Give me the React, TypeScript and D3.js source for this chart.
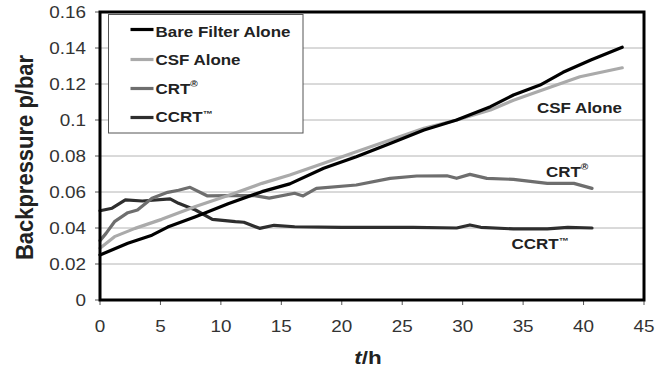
import React from "react";
import * as d3 from "d3";

const xTicks = [0, 5, 10, 15, 20, 25, 30, 35, 40, 45];
const yTicks = [0, 0.02, 0.04, 0.06, 0.08, 0.1, 0.12, 0.14, 0.16];
const yTickLabels = ["0", "0.02", "0.04", "0.06", "0.08", "0.1", "0.12", "0.14", "0.16"];

const bareT = [0, 2.3, 4.3, 5.6, 7.9, 10.6, 13.4, 15.7, 18.5, 21.2, 24, 26.8, 29.5, 32.3, 34.2, 36.4, 38.3, 40.6, 43.2];
const bareV = [0.025, 0.0315, 0.036, 0.0405, 0.0463, 0.0535, 0.0602, 0.0645, 0.0732, 0.0796, 0.087, 0.0944, 0.1, 0.1074, 0.1139, 0.1194, 0.1265, 0.1333, 0.1404];

const csfT = [0, 1.2, 2.9, 5.1, 7.9, 10.6, 13.4, 15.7, 18.5, 21.2, 24, 26.8, 29.5, 32.3, 34.2, 37, 39.7, 43.2];
const csfV = [0.0287, 0.0352, 0.0398, 0.0448, 0.0519, 0.058, 0.0648, 0.0694, 0.076, 0.0824, 0.0889, 0.0954, 0.1, 0.1056, 0.111, 0.1176, 0.124, 0.129];

const crtT = [0, 0.5, 1.2, 2.3, 3.1, 4.3, 5.6, 6.5, 7.45, 8.9, 10.6, 12.8, 14, 16.1, 16.8, 17.9, 21.2, 24, 26.2, 28.7, 29.5, 30.6, 32, 34.2, 37, 39.2, 40.7];
const crtV = [0.033, 0.037, 0.0435, 0.0485, 0.05, 0.0565, 0.0598, 0.061, 0.0626, 0.0578, 0.058, 0.058, 0.0566, 0.0593, 0.0578, 0.062, 0.0639, 0.0676, 0.0689, 0.069, 0.0676, 0.0698, 0.0676, 0.067, 0.0648, 0.0648, 0.062];

const ccrtT = [0, 1, 2.1, 3.5, 5.8, 6.5, 7.9, 9.3, 11.2, 11.9, 13.2, 14.4, 16.1, 20, 25.9, 29.5, 30.6, 31.5, 34.2, 37, 38.7, 40.7];
const ccrtV = [0.0496, 0.051, 0.0556, 0.055, 0.0562, 0.0537, 0.05, 0.0448, 0.0435, 0.0432, 0.0398, 0.0415, 0.0407, 0.0404, 0.0404, 0.04, 0.0417, 0.0404, 0.0395, 0.0395, 0.0404, 0.04];

const seriesNames = ["Bare Filter Alone", "CSF Alone", "CRT", "CCRT"];
const seriesColors = ["#000000", "#aaaaaa", "#6e6e6e", "#2e2e2e"];

const W = 671, H = 372;
const L = 100, R = 644, T = 12, B = 300;
const FONT = "'Liberation Sans', Arial, sans-serif";
const SX = 1.18;

export default function App() {
  const x = d3.scaleLinear().domain([0, 45]).range([L, R]);
  const y = d3.scaleLinear().domain([0, 0.16]).range([B, T]);
  const line = d3.line<[number, number]>().x(d => x(d[0])).y(d => y(d[1]));
  const data = [
    d3.zip(bareT, bareV) as [number, number][],
    d3.zip(csfT, csfV) as [number, number][],
    d3.zip(crtT, crtV) as [number, number][],
    d3.zip(ccrtT, ccrtV) as [number, number][],
  ];
  const drawOrder = [3, 2, 1, 0];
  const legendLineY = [29.5, 59.5, 88.5, 117.5];
  const legendTextY = [36.5, 65, 93.5, 122];

  const sup = (i: number) =>
    i === 2 ? <tspan fontSize={9} dy={-7}>®</tspan> : i === 3 ? <tspan fontSize={9} dy={-5}>™</tspan> : null;

  return (
    <svg width={W} height={H} style={{ position: "absolute", left: 0, top: 0, background: "#fff" }} fontFamily={FONT}>
      <rect x={0} y={0} width={W} height={H} fill="#fff" />
      {yTicks.slice(1, -1).map(v => (
        <line key={"g" + v} x1={L} x2={R} y1={y(v)} y2={y(v)} stroke="#b4b4b4" strokeWidth={1} />
      ))}
      {yTicks.map(v => (
        <line key={"yt" + v} x1={L - 5} x2={L} y1={y(v)} y2={y(v)} stroke="#555" strokeWidth={1} />
      ))}
      {xTicks.map(v => (
        <line key={"xt" + v} x1={x(v)} x2={x(v)} y1={B} y2={B + 5} stroke="#555" strokeWidth={1} />
      ))}
      {drawOrder.map(i => (
        <path key={"s" + i} d={line(data[i]) || ""} fill="none" stroke={seriesColors[i]} strokeWidth={3.2} strokeLinejoin="round" strokeLinecap="round" />
      ))}
      <rect x={L} y={T} width={R - L} height={B - T} fill="none" stroke="#000" strokeWidth={3} />
      {yTicks.map((v, i) => (
        <text key={"yl" + v} transform={`translate(86,${y(v) + 5.5}) scale(${SX},1)`} textAnchor="end" fontSize={16} fill="#333">{yTickLabels[i]}</text>
      ))}
      {xTicks.map(v => (
        <text key={"xl" + v} transform={`translate(${x(v)},331.5) scale(${SX},1)`} textAnchor="middle" fontSize={16} fill="#333">{v}</text>
      ))}
      <text transform={`translate(33,157.5) scale(1.08,1) rotate(-90)`} textAnchor="middle" fontSize={22} fontWeight="bold" fill="#222">Backpressure p/bar</text>
      <text transform={`translate(368,364) scale(${SX},1)`} textAnchor="middle" fontSize={19} fontWeight="bold" fill="#222"><tspan fontStyle="italic">t</tspan>/h</text>
      <rect x={108.5} y={14.5} width={194.5} height={118.5} fill="#fff" stroke="#555" strokeWidth={1} />
      {seriesNames.map((n, i) => (
        <g key={"lg" + i}>
          <line x1={130.5} x2={153.5} y1={legendLineY[i]} y2={legendLineY[i]} stroke={seriesColors[i]} strokeWidth={3.2} />
          <text transform={`translate(155.5,${legendTextY[i]}) scale(1.13,1)`} fontSize={15} fontWeight="bold" fill="#222">
            {n}
            {sup(i)}
          </text>
        </g>
      ))}
      <text transform={`translate(622,113) scale(1.13,1)`} textAnchor="end" fontSize={15} fontWeight="bold" fill="#222">CSF Alone</text>
      <text transform={`translate(546,177) scale(1.13,1)`} fontSize={15} fontWeight="bold" fill="#222">CRT{sup(2)}</text>
      <text transform={`translate(511.5,249) scale(1.13,1)`} fontSize={15} fontWeight="bold" fill="#222">CCRT{sup(3)}</text>
    </svg>
  );
}
